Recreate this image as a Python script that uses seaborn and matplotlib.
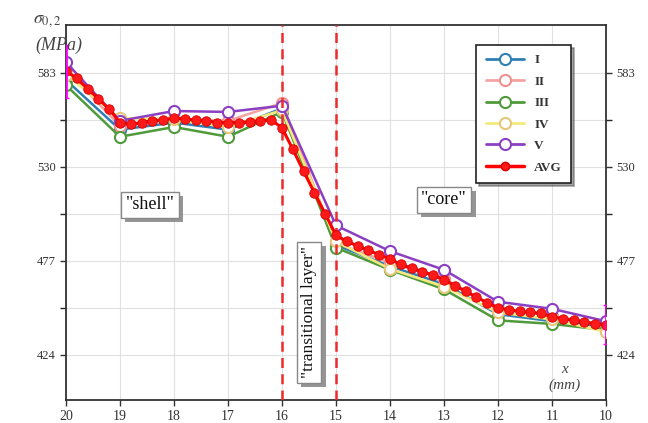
import numpy as np
import pandas as pd
import matplotlib
matplotlib.use("Agg")
import matplotlib.pyplot as plt
import matplotlib.patheffects as pe
from matplotlib.lines import Line2D
import seaborn as sns

# Measurement positions (mm) for the five individual profiles
x_pos = [20, 19, 18, 17, 16, 15, 14, 13, 12, 11, 10]
series_I = [579, 551, 555, 551, 563, 486, 474, 464, 447, 443, 440]
series_II = [585, 553, 557, 556, 566, 487, 476, 467, 450, 446, 441]
series_III = [576, 547, 552.5, 547, 561, 484.5, 472, 461, 443.5, 441.5, 438]
series_IV = [582, 557.5, 557, 552.5, 562, 488, 472.5, 462.5, 448, 444, 437]
series_V = [589, 556, 561.5, 561, 564.5, 497, 482.5, 472, 454, 450, 443]
series_names = ["I", "II", "III", "IV", "V"]

# Averaged profile on a 0.2 mm step
avg_x = [20.0, 19.8, 19.6, 19.4, 19.2, 19.0, 18.8, 18.6, 18.4, 18.2,
         18.0, 17.8, 17.6, 17.4, 17.2, 17.0, 16.8, 16.6, 16.4, 16.2,
         16.0, 15.8, 15.6, 15.4, 15.2, 15.0, 14.8, 14.6, 14.4, 14.2,
         14.0, 13.8, 13.6, 13.4, 13.2, 13.0, 12.8, 12.6, 12.4, 12.2,
         12.0, 11.8, 11.6, 11.4, 11.2, 11.0, 10.8, 10.6, 10.4, 10.2, 10.0]
avg_y = [584, 580, 574, 568.5, 562.5, 555, 554, 555, 556, 556.5,
         557.5, 557, 556.5, 556, 555, 555, 555, 555.5, 556, 556.5,
         552, 540, 527.5, 515.5, 503.5, 491.5, 488, 485.5, 483, 480.5,
         478, 475, 473, 471, 469, 466.5, 463, 460, 456.5, 453.5,
         450.5, 449.5, 448.5, 448, 447.5, 445.5, 444.5, 443.5, 442.5, 441.5, 441]

# Scatter of the averaged profile at the two outer ends
end_x = [20, 10]
end_y = [584, 441]
end_err = [15, 11]

y_ticks = [424, 477, 530, 583]
x_ticks = [20, 19, 18, 17, 16, 15, 14, 13, 12, 11, 10]
zone_bounds = [16, 15]

palette = {"I": "#2f7fb5", "II": "#f4a3a3", "III": "#4f9a3a",
           "IV": "#f6e97c", "V": "#8b3fc2"}
edge_colors = {"I": "#2f7fb5", "II": "#f08f8f", "III": "#4f9a3a",
               "IV": "#e4c77a", "V": "#8b3fc2"}

sns.set_style("ticks")
plt.rcParams["font.family"] = ["Liberation Serif", "DejaVu Serif"]
plt.rcParams["mathtext.fontset"] = "stix"

fig = plt.figure(figsize=(6.48, 4.23), dpi=100)
ax = fig.add_axes([66 / 648, 1 - 400 / 423, 540 / 648, 375 / 423])

# grid
ax.set_yticks([450.5, 503.5, 556.5], minor=True)
ax.grid(True, which="major", color="#e0e0e0", lw=0.8)
ax.grid(True, which="minor", axis="y", color="#e0e0e0", lw=0.8)
ax.set_axisbelow(True)

df = pd.DataFrame({
    "x": x_pos * 5,
    "sigma": series_I + series_II + series_III + series_IV + series_V,
    "series": sum([[n] * len(x_pos) for n in series_names], []),
})

for name in series_names:
    sub = df[df["series"] == name]
    sns.lineplot(data=sub, x="x", y="sigma", ax=ax, color=palette[name],
                 lw=1.8, marker="o", markersize=8, markerfacecolor="white",
                 markeredgecolor=edge_colors[name], markeredgewidth=1.5,
                 legend=False, zorder=3, sort=False)

avg_df = pd.DataFrame({"x": avg_x, "sigma": avg_y})
sns.lineplot(data=avg_df, x="x", y="sigma", ax=ax, color="#ff0000", lw=2.2,
             marker="o", markersize=6.8, markerfacecolor="#ff1a1a",
             markeredgecolor="#d40000", markeredgewidth=0.6,
             legend=False, zorder=5, sort=False)
ax.errorbar(end_x, end_y, yerr=end_err, fmt="none", ecolor="#ff00ff",
            elinewidth=2, capsize=2, zorder=6)

for xb in zone_bounds:
    ax.axvline(xb, color="#ee2a2a", lw=1.8, ls=(0, (4, 2.5)), zorder=4)

ax.set_xlim(20, 10)
ax.set_ylim(398.6, 610)
ax.set_xticks(x_ticks)
ax.set_xticklabels([str(v) for v in x_ticks])
ax.set_yticks(y_ticks)
ax.set_yticklabels([str(v) for v in y_ticks])
ax.set_xlabel("")
ax.set_ylabel("")
ax.tick_params(axis="x", which="major", labelsize=10, colors="#333333",
               direction="out", length=4, width=1)
ax.tick_params(axis="y", which="major", labelsize=9, colors="#333333",
               direction="out", length=4, width=1)
ax.tick_params(axis="y", which="minor", direction="out", length=4, width=1)
ax.tick_params(axis="y", right=True, labelright=True, which="both")
for s in ax.spines.values():
    s.set_visible(True)
    s.set_color("#333333")
    s.set_linewidth(1.3)

# axis captions
fig.text(33 / 648, 1 - 20 / 423, r"$\sigma_{0,2}$", fontsize=13, color="#444444",
         ha="left", va="center")
fig.text(35 / 648, 1 - 45 / 423, "(MPa)", fontsize=13, style="italic",
         color="#444444", ha="left", va="center")
ax.text(10.76, 415.6, "x", fontsize=11, style="italic", color="#444444",
        ha="center", va="center")
ax.text(10.76, 407, "(mm)", fontsize=11, style="italic", color="#444444",
        ha="center", va="center")


def boxed(x, y, s, rot=0, size=13):
    t = ax.text(x, y, s, fontsize=size, rotation=rot, ha="center", va="center",
                color="#111111", zorder=8,
                bbox=dict(boxstyle="square,pad=0.25", fc="white", ec="#888888", lw=1))
    t.get_bbox_patch().set_path_effects([
        pe.SimplePatchShadow(offset=(3, -3), shadow_rgbFace="#8a8a8a", alpha=0.9),
        pe.Normal(),
    ])


boxed(18.44, 508.6, '"shell"')
boxed(13.0, 511.4, '"core"')
boxed(15.5, 448, '"transitional layer"', rot=90, size=12.5)

handles = []
for name in series_names:
    handles.append(Line2D([], [], color=palette[name], lw=2, marker="o",
                          markersize=8, markerfacecolor="white",
                          markeredgecolor=edge_colors[name], markeredgewidth=1.5,
                          label=name))
handles.append(Line2D([], [], color="#ff0000", lw=2.5, marker="o", markersize=6,
                      markerfacecolor="#ff1a1a", markeredgecolor="#d40000",
                      label="AVG"))
leg = ax.legend(handles=handles, loc="upper right", bbox_to_anchor=(0.948, 0.965),
                frameon=True, fancybox=False, shadow=True, handlelength=2.9,
                labelspacing=0.7, borderpad=0.7,
                prop={"family": "Liberation Serif", "weight": "bold", "size": 9.5})
leg.get_frame().set_edgecolor("#222222")
leg.get_frame().set_linewidth(1.2)
for t in leg.get_texts():
    t.set_color("#333333")

fig.savefig("out.png", dpi=100)
